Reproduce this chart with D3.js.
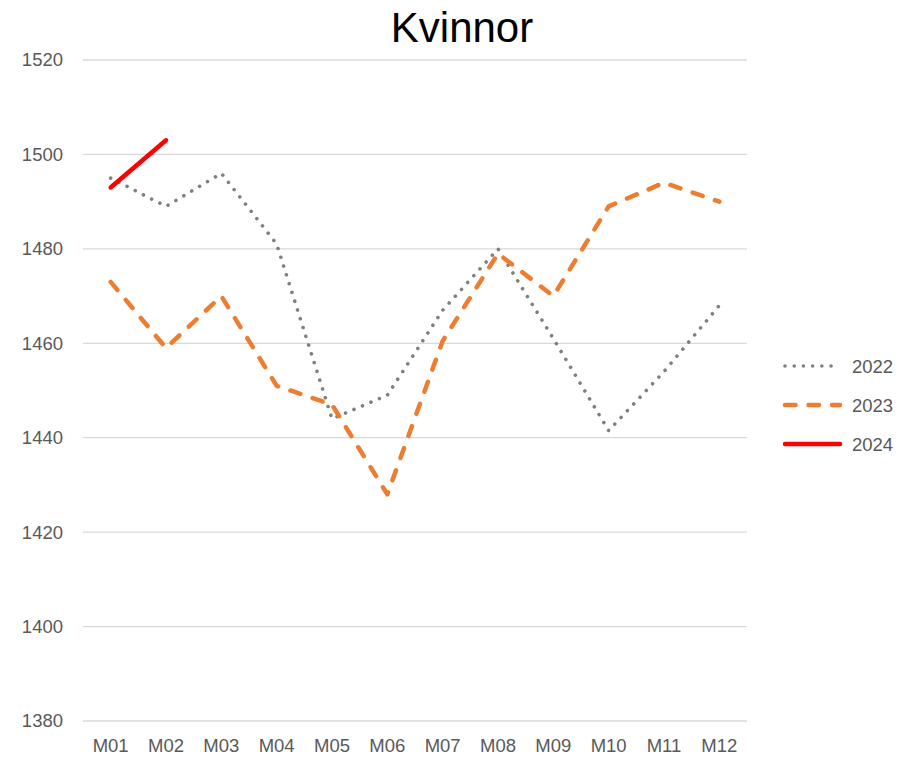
<!DOCTYPE html>
<html>
<head>
<meta charset="utf-8">
<script src="https://cdn.jsdelivr.net/npm/d3@7"></script>
<style>
  body { margin: 0; background: #fff; }
  text { font-family: "Liberation Sans", Arial, sans-serif; }
</style>
</head>
<body>
<svg id="chart"></svg>
<script>
// Data
const months = ["M01", "M02", "M03", "M04", "M05", "M06", "M07", "M08", "M09", "M10", "M11", "M12"];
const v2022 = [1495, 1489, 1496, 1481, 1444, 1449, 1467, 1480, 1461, 1441.5, 1454, 1468];
const v2023 = [1473, 1459, 1470, 1451, 1447, 1428, 1460.5, 1479, 1470, 1489, 1494, 1490];
const v2024 = [1493, 1503];
const yTicks = [1380, 1400, 1420, 1440, 1460, 1480, 1500, 1520];

const series = [
  { name: "2022", values: v2022, color: "#7f7f7f", width: 3.6, dash: "0.01,9.2" },
  { name: "2023", values: v2023, color: "#ed7d31", width: 4.5, dash: "10.5,13" },
  { name: "2024", values: v2024, color: "#ff0000", width: 4.5, dash: null }
];

// Chart dimensions
const W = 906, H = 761;
const margin = { top: 60, right: 159, bottom: 40, left: 83 };
const width = W - margin.left - margin.right;
const height = H - margin.top - margin.bottom;

const svg = d3.select("#chart").attr("width", W).attr("height", H);

// Title
svg.append("text")
  .attr("x", 462)
  .attr("y", 42)
  .attr("text-anchor", "middle")
  .style("font-size", "42px")
  .style("fill", "#000")
  .text("Kvinnor");

const g = svg.append("g").attr("transform", `translate(${margin.left}, ${margin.top})`);

// Scales
const x = d3.scaleBand().domain(months).range([0, width]);
const y = d3.scaleLinear().domain([1380, 1520]).range([height, 0]);

// Gridlines
g.append("g")
  .selectAll("line")
  .data(yTicks)
  .enter()
  .append("line")
  .attr("x1", 0)
  .attr("x2", width)
  .attr("y1", (d) => y(d))
  .attr("y2", (d) => y(d))
  .attr("stroke", "#d9d9d9")
  .attr("stroke-width", 1.3);

// Y axis labels
const yAxis = d3.axisLeft(y).tickValues(yTicks).tickFormat(d3.format("d")).tickSize(0).tickPadding(20);
g.append("g").call(yAxis)
  .call((a) => a.select(".domain").remove())
  .selectAll("text")
  .style("font-size", "18.5px")
  .style("fill", "#595959")
  .style("font-family", "'Liberation Sans', Arial, sans-serif");

// X axis labels
const xAxis = d3.axisBottom(x).tickSize(0).tickPadding(18);
g.append("g")
  .attr("transform", `translate(0, ${height})`)
  .call(xAxis)
  .call((a) => a.select(".domain").remove())
  .selectAll("text")
  .style("font-size", "18.5px")
  .style("fill", "#595959")
  .style("font-family", "'Liberation Sans', Arial, sans-serif");

// Lines
const line = d3.line()
  .x((d, i) => x(months[i]) + x.bandwidth() / 2)
  .y((d) => y(d));

series.forEach((s) => {
  g.append("path")
    .datum(s.values)
    .attr("fill", "none")
    .attr("stroke", s.color)
    .attr("stroke-width", s.width)
    .attr("stroke-linecap", "round")
    .attr("stroke-linejoin", "round")
    .attr("stroke-dasharray", s.dash)
    .attr("d", line);
});

// Legend
const legend = svg.append("g").attr("transform", "translate(785, 366)");
series.forEach((s, i) => {
  const row = legend.append("g").attr("transform", `translate(0, ${i * 39})`);
  row.append("line")
    .attr("x1", 0)
    .attr("x2", 55)
    .attr("y1", 0)
    .attr("y2", 0)
    .attr("stroke", s.color)
    .attr("stroke-width", s.width)
    .attr("stroke-linecap", "round")
    .attr("stroke-dasharray", s.dash);
  row.append("text")
    .attr("x", 67)
    .attr("y", 7)
    .style("font-size", "18.5px")
    .style("fill", "#595959")
    .text(s.name);
});
</script>
</body>
</html>
